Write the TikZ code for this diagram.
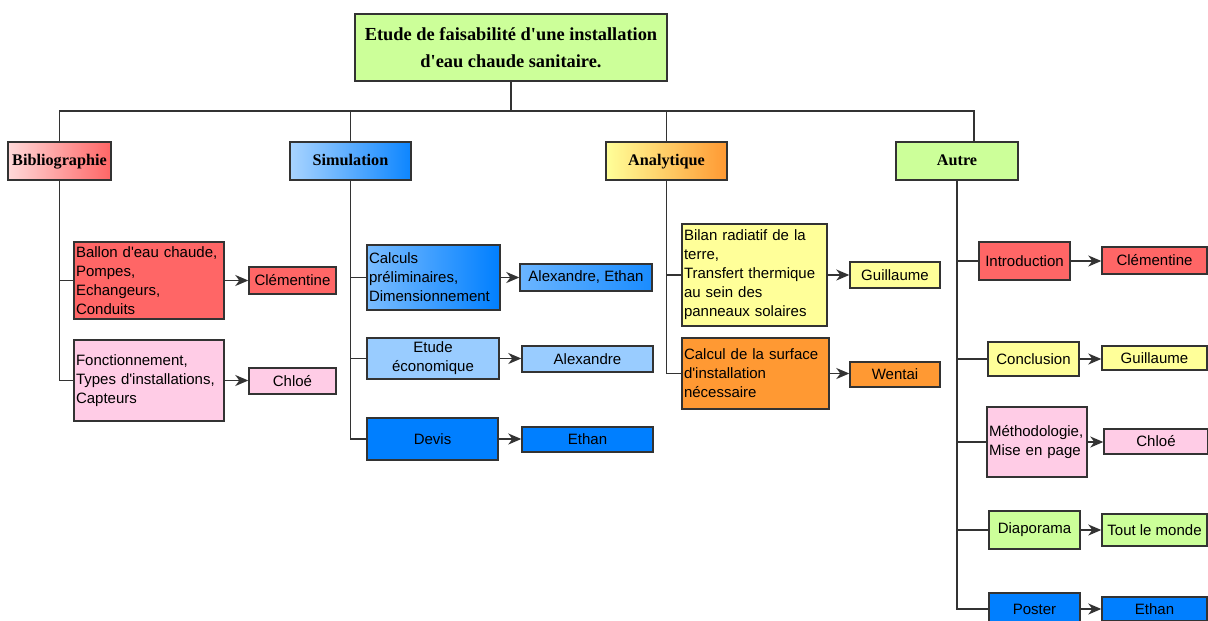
\documentclass[tikz,border=0pt]{standalone}
\usepackage{fontspec}
\newfontfamily\sansf[Ligatures=TeXOff]{Liberation Sans}
\newfontfamily\seriff[Ligatures=TeXOff]{Liberation Serif}
\usetikzlibrary{arrows.meta}
\definecolor{lgreen}{HTML}{CCFF99}
\definecolor{cred}{HTML}{FF6666}
\definecolor{cpink}{HTML}{FFCCE6}
\definecolor{cyellow}{HTML}{FFFF99}
\definecolor{corange}{HTML}{FF9933}
\definecolor{cblue}{HTML}{007FFF}
\definecolor{clblue}{HTML}{99CCFF}
\definecolor{edgec}{HTML}{333333}
\begin{document}
\begin{tikzpicture}[x=1pt,y=-1pt,
  box/.style={draw=edgec, line width=1.4pt, rectangle, inner xsep=2pt, inner ysep=0pt,
    font=\sansf\fontsize{15}{19}\selectfont, align=center},
  lbox/.style={box, align=left, text width=#1},
  cat/.style={draw=edgec, line width=1.4pt, rectangle, inner sep=0pt, minimum height=38pt,
    text height=11pt, text depth=3pt,
    font=\seriff\bfseries\fontsize{16.2}{20}\selectfont},
  tree/.style={draw=edgec, line width=1.6pt},
  arr/.style={tree, -{Stealth[length=13pt,width=11pt,inset=4pt]}}]
\useasboundingbox[fill=white] (0,0) rectangle (1208,621);

% title
\node[draw=edgec, line width=1.4pt, fill=lgreen, minimum width=312pt, minimum height=67pt, inner sep=0pt,
  align=center, font=\seriff\bfseries\fontsize{18.4}{27}\selectfont] (title) at (511,47.5)
  {Etude de faisabilité d'une installation\\d'eau chaude sanitaire.};

% categories
\node[cat, minimum width=103pt, left color=cred!25!white, right color=cred] (bib) at (59.5,161) {Bibliographie};
\node[cat, minimum width=121pt, left color=clblue!85!white, right color=cblue!95!white] (sim) at (350.5,161) {Simulation};
\node[cat, minimum width=121pt, left color=cyellow, right color=corange] (ana) at (666.5,161) {Analytique};
\node[cat, minimum width=122pt, fill=lgreen] (autre) at (957,161) {Autre};

\coordinate (bar) at (511,111);
\coordinate (autretop) at (974,142);

% Bibliographie children
\node[lbox=146pt, fill=cred, minimum height=77pt] (ballon) at (149,280.5)
  {Ballon d'eau chaude,\\Pompes,\\Echangeurs,\\Conduits};
\node[box, fill=cred, minimum width=87pt, minimum height=27pt] (clem1) at (292.5,280.5) {Clémentine};
\node[lbox=146pt, fill=cpink, minimum height=81pt] (fonc) at (149,380.5)
  {Fonctionnement,\\Types d'installations,\\Capteurs};
\node[box, fill=cpink, minimum width=87pt, minimum height=26pt] (chloe1) at (292.5,381) {Chloé};

% Simulation children
\node[lbox=129pt, left color=clblue!80!cblue, right color=cblue, minimum height=65pt] (calc) at (433.5,277.5)
  {Calculs\\préliminaires,\\Dimensionnement};
\node[box, left color=clblue!70!cblue, right color=cblue!90!white, minimum width=132pt, minimum height=27pt] (alexeth) at (586,277.5) {Alexandre, Ethan};
\node[box, fill=clblue, minimum width=132pt, minimum height=41pt] (etude) at (433,358.5) {Etude\\économique};
\node[box, fill=clblue, minimum width=131pt, minimum height=26pt] (alex) at (587.5,359) {Alexandre};
\node[box, fill=cblue, minimum width=131pt, minimum height=42pt] (devis) at (432.5,439) {Devis};
\node[box, fill=cblue, minimum width=131pt, minimum height=25pt] (ethan1) at (587.5,439.5) {Ethan};

% Analytique children
\node[lbox=141pt, fill=cyellow, minimum height=102pt] (bilan) at (754.5,275)
  {Bilan radiatif de la\\terre,\\Transfert thermique\\au sein des\\panneaux solaires};
\node[box, fill=cyellow, minimum width=90pt, minimum height=26pt] (guil1) at (895,275) {Guillaume};
\node[lbox=143pt, fill=corange, minimum height=71pt] (surf) at (755.5,373.5)
  {Calcul de la surface\\d'installation\\nécessaire};
\node[box, fill=corange, minimum width=90pt, minimum height=25pt] (wentai) at (895,374.5) {Wentai};

% Autre children
\node[box, fill=cred, minimum width=91pt, minimum height=38pt] (intro) at (1024.5,261) {Introduction};
\node[box, fill=cred, minimum width=105pt, minimum height=27pt] (clem2) at (1154.5,260.5) {Clémentine};
\node[box, fill=cyellow, minimum width=91pt, minimum height=34pt] (concl) at (1033.5,359) {Conclusion};
\node[box, fill=cyellow, minimum width=105pt, minimum height=24pt] (guil2) at (1154.5,358) {Guillaume};
\node[lbox=96pt, fill=cpink, minimum height=70pt] (metho) at (1037,442) {Méthodologie,\\Mise en page};
\node[box, fill=cpink, minimum width=104pt, minimum height=25pt] (chloe2) at (1156,441.5) {Chloé};
\node[box, fill=lgreen, minimum width=91pt, minimum height=38pt] (diapo) at (1034.5,530) {Diaporama};
\node[box, fill=lgreen, minimum width=105pt, minimum height=32pt] (tout) at (1154.5,530) {Tout le monde};
\node[box, fill=cblue, minimum width=91pt, minimum height=32pt] (poster) at (1034.5,609) {Poster};
\node[box, fill=cblue, minimum width=105pt, minimum height=24pt] (ethan2) at (1154.5,609) {Ethan};

% tree
\draw[tree] (title.south) -- (bar);
\draw[tree] (bib.north) -- (bib.north |- bar) -- (autretop |- bar) -- (autretop);
\draw[tree] (sim.north) -- (sim.north |- bar);
\draw[tree] (ana.north) -- (ana.north |- bar);

\draw[tree] (bib.south) |- (ballon.west);
\draw[tree] (bib.south) |- (fonc.west);
\draw[tree] (sim.south) |- (calc.west);
\draw[tree] (sim.south) |- (etude.west);
\draw[tree] (sim.south) |- (devis.west);
\draw[tree] (ana.south) |- (bilan.west);
\draw[tree] (ana.south) |- (surf.west);
\draw[tree] (autre.south) |- (intro.west);
\draw[tree] (autre.south) |- (concl.west);
\draw[tree] (autre.south) |- (metho.west);
\draw[tree] (autre.south) |- (diapo.west);
\draw[tree] (autre.south) |- (poster.west);

% arrows
\draw[arr] (ballon.east) -- (ballon.east -| clem1.west);
\draw[arr] (fonc.east) -- (fonc.east -| chloe1.west);
\draw[arr] (calc.east) -- (calc.east -| alexeth.west);
\draw[arr] (etude.east) -- (etude.east -| alex.west);
\draw[arr] (devis.east) -- (devis.east -| ethan1.west);
\draw[arr] (bilan.east) -- (bilan.east -| guil1.west);
\draw[arr] (surf.east) -- (surf.east -| wentai.west);
\draw[arr] (intro.east) -- (intro.east -| clem2.west);
\draw[arr] (concl.east) -- (concl.east -| guil2.west);
\draw[arr] (metho.east) -- (metho.east -| chloe2.west);
\draw[arr] (diapo.east) -- (diapo.east -| tout.west);
\draw[arr] (poster.east) -- (poster.east -| ethan2.west);
\end{tikzpicture}
\end{document}
